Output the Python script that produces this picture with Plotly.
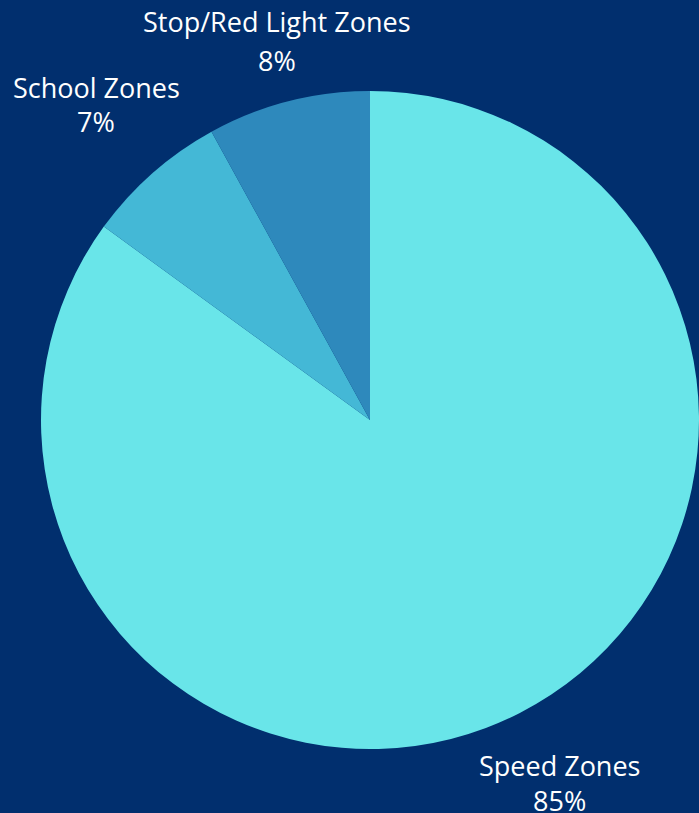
import plotly.graph_objects as go

categories = ["Speed Zones", "School Zones", "Stop/Red Light Zones"]
values = [85, 7, 8]
colors = ["#69E5E9", "#44B8D6", "#2E89BC"]

W, H = 699, 813
BG = "#012F6E"

# label positions in pixels (centre x, centre of name line, centre of percent line)
label_pos = {
    "Speed Zones": (559, 765, 800),
    "School Zones": (96, 88, 122),
    "Stop/Red Light Zones": (277, 22, 60),
}

fig = go.Figure(go.Pie(
    labels=categories,
    values=values,
    marker=dict(colors=colors, line=dict(width=0)),
    sort=False,
    direction="clockwise",
    rotation=0,
    textinfo="none",
    hoverinfo="label+percent",
    showlegend=False,
    domain=dict(x=[41 / W, 1], y=[1 - 754 / H, 1 - 86 / H]),
))

font = dict(family="Open Sans, Noto Sans, sans-serif", size=27, color="white")
anns = []
for cat, v in zip(categories, values):
    x, y1, y2 = label_pos[cat]
    anns.append(dict(x=x / W, y=1 - y1 / H, xref="paper", yref="paper",
                     text=cat, showarrow=False, font=font,
                     xanchor="center", yanchor="middle"))
    anns.append(dict(x=x / W, y=1 - y2 / H, xref="paper", yref="paper",
                     text=f"{v}%", showarrow=False, font=font,
                     xanchor="center", yanchor="middle"))

fig.update_layout(
    width=W, height=H,
    margin=dict(l=0, r=0, t=0, b=0),
    paper_bgcolor=BG, plot_bgcolor=BG,
    annotations=anns,
)

fig.write_html(
    "out.html",
    config={"displayModeBar": False},
    post_script="document.body.style.margin='0';"
                "document.body.style.overflow='hidden';"
                "document.body.style.background='" + BG + "';",
)
